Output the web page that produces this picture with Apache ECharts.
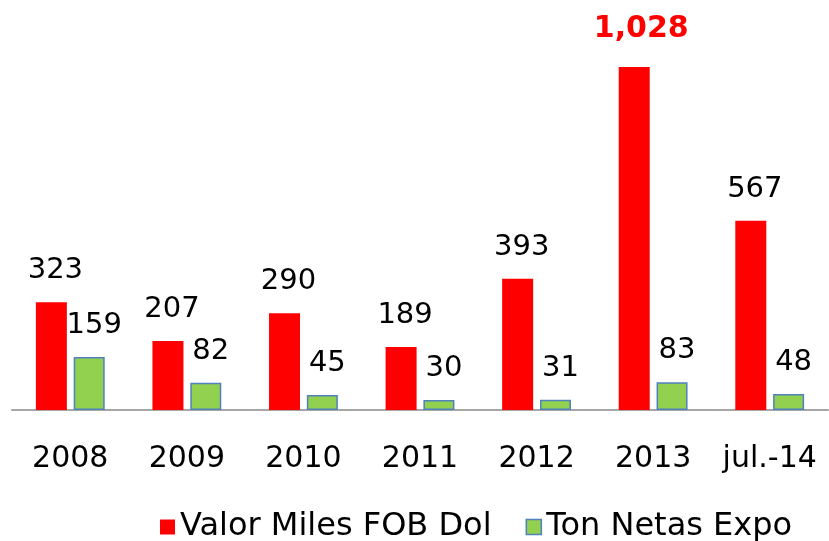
<!DOCTYPE html>
<html><head><meta charset="utf-8">
<script src="https://cdn.jsdelivr.net/npm/echarts@6/dist/echarts.min.js"></script>
<style>html,body{margin:0;padding:0;background:#fff}#c{width:829px;height:541px}</style>
</head><body><div id="c"></div>
<script>
const categories = ['2008','2009','2010','2011','2012','2013','jul.-14'];
const valorMiles = [323, 207, 290, 189, 393, 1028, 567];
const tonNetas = [159, 82, 45, 30, 31, 83, 48];
const seriesNames = ['Valor Miles FOB Dol', 'Ton Netas Expo'];
const FONT = 'DejaVu Sans';
const chart = echarts.init(document.getElementById('c'));
const maxIdx = valorMiles.indexOf(Math.max(...valorMiles));
chart.setOption({
  animation: false,
  grid: {left: 12, right: 1, top: 67, bottom: 131},
  xAxis: {
    type: 'category', data: categories,
    axisLine: {lineStyle: {color: '#a6a6a6', width: 2}},
    axisTick: {show: false},
    axisLabel: {color: '#000', fontSize: 30, fontFamily: FONT, margin: 34, interval: 0, hideOverlap: false}
  },
  yAxis: {type: 'value', min: 0, max: 1028, show: false, splitLine: {show: false}},
  legend: {
    top: 506, left: 155, icon: 'rect', itemWidth: 15, itemHeight: 15, itemGap: 34,
    textStyle: {fontSize: 32, fontFamily: FONT, color: '#000', padding: [0, 0, 0, 0]},
    data: [
      {name: seriesNames[0], itemStyle: {color: '#ff0000'}},
      {name: seriesNames[1], itemStyle: {color: '#92d050', borderColor: '#4f81bd', borderWidth: 1.5}}
    ]
  },
  series: [
    {
      name: seriesNames[0], type: 'bar', barWidth: 31, barGap: '22%',
      itemStyle: {color: '#ff0000'},
      data: valorMiles.map((v, i) => i === maxIdx ? {
        value: v,
        label: {color: '#ff0000', fontWeight: 'bold', fontSize: 30, distance: 23, offset: [7, 0]}
      } : v),
      label: {show: true, position: 'top', distance: 17, fontSize: 29, fontFamily: FONT, color: '#000', offset: [4, 0],
        formatter: p => p.value.toLocaleString('en-US')}
    },
    {
      name: seriesNames[1], type: 'bar', barWidth: 31,
      itemStyle: {color: '#92d050', borderColor: '#4f81bd', borderWidth: 1.5},
      data: tonNetas,
      label: {show: true, position: 'top', distance: 17, fontSize: 29, fontFamily: FONT, color: '#000', offset: [5, 0]}
    }
  ]
});
</script></body></html>
